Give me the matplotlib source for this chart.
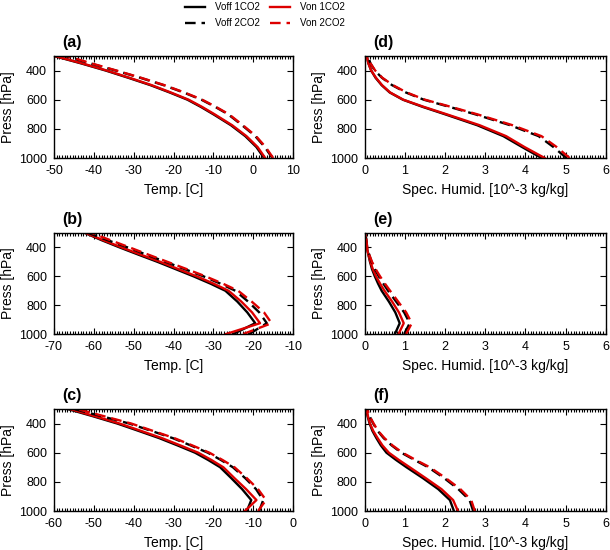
import numpy as np
from matplotlib import pyplot as plt
from matplotlib.ticker import MultipleLocator, AutoMinorLocator

plt.rcParams['font.family'] = ['Liberation Sans', 'DejaVu Sans']
plt.rcParams['axes.unicode_minus'] = False

#%% Données

press = [1000, 925, 850, 775, 700, 650, 600, 550, 500, 450, 400, 350, 300]   # niveaux [hPa]

# (a) température
a_voff1 = [2.7, 0.8, -2.0, -5.6, -10.0, -13.1, -16.5, -21.0, -25.8, -31.3, -37.0, -43.3, -50.0]
a_von1  = [3.0, 1.1, -1.7, -5.3, -9.7, -12.8, -16.2, -20.7, -25.5, -31.0, -36.7, -43.0, -49.8]
a_voff2 = [4.8, 2.9, 0.5, -2.8, -6.3, -9.5, -13.0, -17.5, -22.5, -28.3, -34.5, -41.0, -47.3]
a_von2  = [5.0, 3.1, 0.7, -2.6, -6.1, -9.3, -12.8, -17.3, -22.3, -28.1, -34.3, -40.7, -46.8]

# (b) température
b_voff1 = [-25.0, -19.5, -21.5, -24.0, -27.0, -30.8, -35.0, -39.5, -44.0, -48.8, -53.5, -58.0, -62.2]
b_von1  = [-26.8, -18.3, -20.3, -23.0, -26.2, -30.0, -34.2, -38.8, -43.3, -48.2, -53.0, -57.6, -62.0]
b_voff2 = [-21.0, -16.6, -18.5, -21.3, -24.5, -28.3, -32.5, -37.2, -42.0, -46.8, -51.5, -56.5, -61.3]
b_von2  = [-22.5, -15.4, -17.3, -20.4, -23.8, -27.7, -32.0, -36.7, -41.5, -46.3, -51.0, -55.8, -60.5]

# (c) température
c_voff1 = [-11.6, -10.5, -12.8, -15.5, -18.3, -21.3, -24.6, -29.0, -33.6, -38.8, -44.1, -50.2, -56.6]
c_von1  = [-12.1, -9.2, -11.8, -14.7, -17.5, -20.5, -23.8, -28.3, -32.9, -38.2, -43.5, -49.7, -56.0]
c_voff2 = [-8.5, -7.5, -9.3, -12.0, -15.1, -18.1, -21.4, -25.7, -30.2, -35.6, -41.1, -48.0, -55.0]
c_von2  = [-8.8, -6.8, -8.8, -11.6, -14.7, -17.7, -21.0, -25.3, -29.8, -35.2, -40.6, -47.4, -54.2]

# (d) humidité spécifique
d_voff1 = [4.40, 3.92, 3.45, 2.80, 2.00, 1.45, 0.95, 0.62, 0.42, 0.27, 0.16, 0.09, 0.05]
d_von1  = [4.48, 3.98, 3.52, 2.86, 2.04, 1.48, 0.96, 0.63, 0.43, 0.28, 0.16, 0.09, 0.05]
d_voff2 = [5.02, 4.70, 4.33, 3.62, 2.75, 2.12, 1.47, 1.02, 0.68, 0.43, 0.25, 0.14, 0.08]
d_von2  = [5.10, 4.78, 4.40, 3.68, 2.80, 2.16, 1.50, 1.04, 0.70, 0.44, 0.26, 0.14, 0.08]

# (e) humidité spécifique
e_voff1 = [0.75, 0.87, 0.76, 0.60, 0.42, 0.33, 0.25, 0.18, 0.13, 0.09, 0.05, 0.03, 0.01]
e_von1  = [0.84, 0.97, 0.85, 0.68, 0.49, 0.38, 0.28, 0.20, 0.14, 0.09, 0.05, 0.03, 0.01]
e_voff2 = [0.98, 1.12, 0.98, 0.78, 0.58, 0.46, 0.35, 0.25, 0.17, 0.11, 0.06, 0.04, 0.02]
e_von2  = [1.03, 1.17, 1.03, 0.83, 0.63, 0.50, 0.38, 0.27, 0.18, 0.11, 0.06, 0.04, 0.02]

# (f) humidité spécifique
f_voff1 = [2.22, 2.12, 1.83, 1.45, 1.04, 0.78, 0.54, 0.40, 0.29, 0.19, 0.12, 0.07, 0.04]
f_von1  = [2.32, 2.20, 1.91, 1.52, 1.12, 0.85, 0.60, 0.44, 0.32, 0.21, 0.13, 0.08, 0.04]
f_voff2 = [2.70, 2.61, 2.33, 1.98, 1.58, 1.24, 0.91, 0.67, 0.47, 0.32, 0.21, 0.12, 0.06]
f_von2  = [2.74, 2.65, 2.38, 2.02, 1.62, 1.27, 0.94, 0.69, 0.49, 0.33, 0.22, 0.12, 0.06]

labels = ['Voff 1CO2', 'Von 1CO2', 'Voff 2CO2', 'Von 2CO2']

panels = [
    ('(a)', [a_voff1, a_von1, a_voff2, a_von2], (-50, 10), 'Temp. [C]'),
    ('(b)', [b_voff1, b_von1, b_voff2, b_von2], (-70, -10), 'Temp. [C]'),
    ('(c)', [c_voff1, c_von1, c_voff2, c_von2], (-60, 0), 'Temp. [C]'),
    ('(d)', [d_voff1, d_von1, d_voff2, d_von2], (0, 6), 'Spec. Humid. [10^-3 kg/kg]'),
    ('(e)', [e_voff1, e_von1, e_voff2, e_von2], (0, 6), 'Spec. Humid. [10^-3 kg/kg]'),
    ('(f)', [f_voff1, f_von1, f_voff2, f_von2], (0, 6), 'Spec. Humid. [10^-3 kg/kg]'),
]

#%% Figure

fig = plt.figure(figsize=(6.1, 5.5), dpi=100)

lefts = [0.0885, 0.0885, 0.0885, 0.598, 0.598, 0.598]
bottoms = [0.7127, 0.3927, 0.0709, 0.7127, 0.3927, 0.0709]
widths = [0.392, 0.392, 0.392, 0.395, 0.395, 0.395]
heights = [0.1855, 0.1836, 0.1855, 0.1855, 0.1836, 0.1855]

rouge = '#dd0000'
tirets = (0, (4.5, 2.5))
styles = [dict(color='black', ls='-'), dict(color=rouge, ls='-'),
          dict(color='black', ls=tirets), dict(color=rouge, ls=tirets)]

handles = []
for i, (lettre, series, xlim, xlab) in enumerate(panels):
    ax = fig.add_axes([lefts[i], bottoms[i], widths[i], heights[i]])
    hs = []
    for s, st in zip(series, styles):
        h, = ax.plot(s, press, lw=1.7, **st)
        hs.append(h)
    handles = hs
    ax.set_xlim(*xlim)
    ax.set_ylim(1000, 300)
    ax.set_yticks([400, 600, 800, 1000])
    ax.xaxis.set_major_locator(MultipleLocator(10 if xlim[1] - xlim[0] > 10 else 1))
    ax.xaxis.set_minor_locator(AutoMinorLocator(15))
    ax.tick_params(axis='both', which='major', direction='in', length=4, width=0.8,
                   labelsize=9, top=True, right=True, pad=5)
    ax.tick_params(axis='x', which='minor', direction='in', length=2, width=0.8,
                   top=True, bottom=True)
    for sp in ax.spines.values():
        sp.set_linewidth(1.0)
    ax.set_xlabel(xlab, fontsize=10, labelpad=4)
    ax.set_ylabel('Press [hPa]', fontsize=10, labelpad=3)
    ax.text(0.035, 1.06, lettre, transform=ax.transAxes, fontsize=11.5,
            fontweight='bold', ha='left', va='bottom')

ordre = [handles[0], handles[2], handles[1], handles[3]]
fig.legend(ordre, [labels[0], labels[2], labels[1], labels[3]], ncol=2,
           loc='center', bbox_to_anchor=(0.434, 0.972), frameon=False,
           fontsize=7, handlelength=2.1, handletextpad=1.0, columnspacing=1.0,
           labelspacing=0.6)

fig.savefig('out.png', dpi=100)
